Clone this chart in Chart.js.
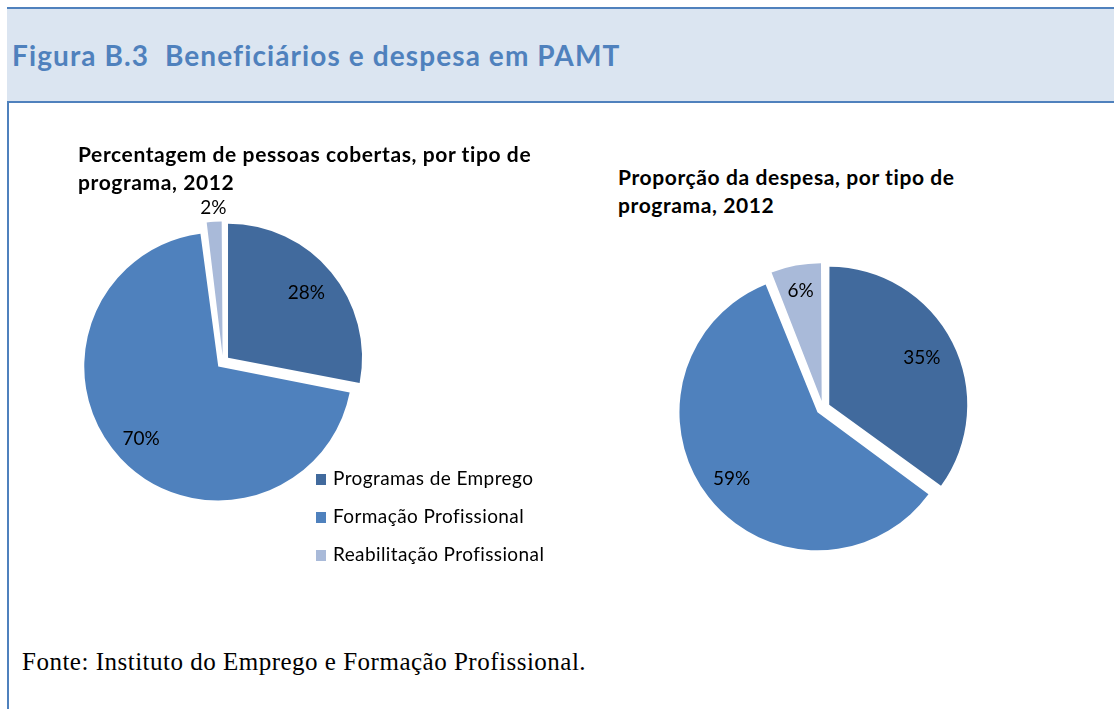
<!DOCTYPE html>
<html lang="pt">
<head>
<meta charset="utf-8">
<title>Figura B.3 Beneficiários e despesa em PAMT</title>
<script src="https://cdn.jsdelivr.net/npm/chart.js@4.4.1/dist/chart.umd.min.js"></script>
<style>
    html, body { margin: 0; padding: 0; background: #fff; }
    body { width: 1114px; height: 709px; position: relative; overflow: hidden; font-family: Lato, "Noto Sans", sans-serif; }
    .frame-left { position: absolute; left: 7px; top: 7px; width: 2px; height: 702px; background: #4F81BD; }
    .header { position: absolute; left: 7px; top: 7px; right: 0; height: 92px; background: #DBE5F1;
              border-top: 2px solid #4F81BD; border-bottom: 2px solid #4F81BD; }
    .header h1 { position: absolute; left: 5px; top: 28px; margin: 0; font-size: 28px; line-height: 36px;
                 letter-spacing: 1.1px; font-weight: bold; color: #4F81BD; white-space: pre; }
    .chart-title { position: absolute; margin: 0; font-size: 21px; line-height: 28px; letter-spacing: 0.6px;
                   font-weight: bold; color: #000; z-index: 2; }
    .pie { position: absolute; width: 360px; height: 360px; }
    .legend { position: absolute; left: 316px; top: 464px; font-size: 19px; letter-spacing: 0.4px; color: #000; }
    .legend div { height: 38px; line-height: 28px; white-space: nowrap; }
    .legend span { display: inline-block; width: 10px; height: 11px; margin-right: 7px; vertical-align: 0px; }
    .source { position: absolute; left: 22px; top: 646px; font-family: "Liberation Serif", "DejaVu Serif", serif;
              font-size: 25px; letter-spacing: 0.5px; line-height: 32px; color: #000; }
</style>
</head>
<body>
<div class="frame-left"></div>
<div class="header"><h1>Figura B.3  Beneficiários e despesa em PAMT</h1></div>

<div class="chart-title" style="left:78px; top:140px;">Percentagem de pessoas cobertas, por tipo de<br>programa, 2012</div>
<div class="chart-title" style="left:618px; top:163px;">Proporção da despesa, por tipo de<br>programa, 2012</div>

<div class="pie" style="left:43px; top:182px;"><canvas id="coveredChart" width="360" height="360"></canvas></div>
<div class="pie" style="left:643px; top:228px;"><canvas id="spendingChart" width="360" height="360"></canvas></div>

<div class="legend" id="legend"></div>

<div class="source">Fonte: Instituto do Emprego e Formação Profissional.</div>

<script>
// data (percent shares)
const categories = ['Programas de Emprego', 'Formação Profissional', 'Reabilitação Profissional'];
const coveredShares = [28, 70, 2];
const spendingShares = [35, 59, 6];
const sliceColors = ['#416A9D', '#4F81BD', '#A9BAD9'];

// Chart.js grows the radius of wide exploded slices; keep every slice at the same radius
const keepRadius = {
    id: 'keepRadius',
    afterDatasetUpdate(chart) {
        chart.getDatasetMeta(0).data.forEach(function(arc) {
            const shift = (arc.options.offset || 0) / 4;
            const fix = 1 - Math.sin(Math.min(Math.PI, arc.circumference));
            arc.outerRadius -= shift * fix;
        });
    }
};

// percent labels: inside the slice, tiny ones pushed outside
const sliceLabels = {
    id: 'sliceLabels',
    afterDatasetsDraw(chart) {
        const meta = chart.getDatasetMeta(0);
        const values = chart.data.datasets[0].data;
        const ctx = chart.ctx;
        ctx.save();
        ctx.font = '19px Lato, "Noto Sans", sans-serif';
        ctx.fillStyle = '#000';
        ctx.textAlign = 'center';
        ctx.textBaseline = 'middle';
        meta.data.forEach(function(arc, i) {
            const p = arc.getProps(['x', 'y', 'startAngle', 'endAngle', 'outerRadius'], true);
            const mid = (p.startAngle + p.endAngle) / 2;
            const shift = (arc.options.offset || 0) / 4;
            let k = 0.76;
            if (values[i] < 4) k = 1.15;
            else if (values[i] < 10) k = 0.84;
            else if (values[i] > 50) k = 0.83;
            const r = p.outerRadius * k + shift;
            ctx.fillText(values[i] + '%', p.x + Math.cos(mid) * r, p.y + Math.sin(mid) * r);
        });
        ctx.restore();
    }
};

function makePie(id, values, radius, offset) {
    return new Chart(document.getElementById(id), {
        type: 'pie',
        data: {
            labels: categories,
            datasets: [{
                data: values,
                backgroundColor: sliceColors,
                borderWidth: 0,
                offset: offset
            }]
        },
        options: {
            responsive: false,
            animation: false,
            radius: radius,
            layout: { padding: 0 },
            plugins: {
                legend: { display: false },
                tooltip: { enabled: false }
            }
        },
        plugins: [keepRadius, sliceLabels]
    });
}

makePie('coveredChart', coveredShares, 134, 26);
makePie('spendingChart', spendingShares, 138, 28);

// legend built from the same categories
document.getElementById('legend').innerHTML = categories.map(function(name, i) {
    return '<div><span style="background:' + sliceColors[i] + '"></span>' + name + '</div>';
}).join('');
</script>
</body>
</html>
